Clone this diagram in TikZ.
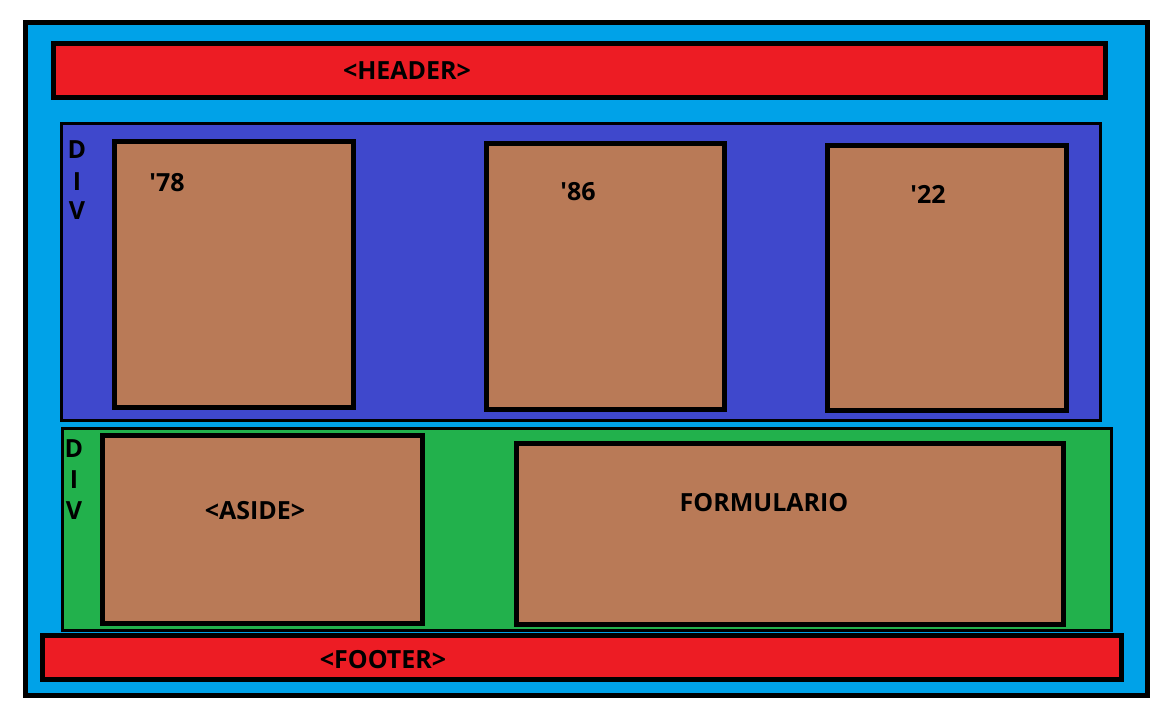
\documentclass[tikz,border=0pt]{standalone}
\usepackage{fontspec}
\setmainfont{Open Sans}
\usepackage{tikz}
\usetikzlibrary{positioning}
\definecolor{pagecyan}{HTML}{00A2E8}
\definecolor{barred}{HTML}{ED1C24}
\definecolor{divblue}{HTML}{3F48CC}
\definecolor{divgreen}{HTML}{22B14C}
\definecolor{boxbrown}{HTML}{B97A57}
\tikzset{
	thickbox/.style={line width=5pt, draw=black},
	thinbox/.style={line width=3pt, draw=black},
	lbl/.style={font=\bfseries\fontsize{25}{30}\selectfont, text=black, inner sep=0pt}
}

\begin{document}
\begin{tikzpicture}[x=1pt, y=-1pt]
		%%%%% START %%%%%
		\useasboundingbox (0, 0) rectangle (1167, 725);
		
		\draw[thickbox, fill=pagecyan] (25.5, 22.5) rectangle (1147.5, 695.5);
		
		\draw[thickbox, fill=barred] (53.5, 43.5) rectangle (1105.5, 97.5);
		\node[lbl] (header) at (407, 71) {<HEADER>};
		
		\draw[thinbox, fill=divblue] (61.5, 123.5) rectangle (1100.5, 420.5);
		\node[lbl] (divtopD) at (77, 150) {D};
		\node[lbl] (divtopI) at (77, 182) {I};
		\node[lbl] (divtopV) at (77, 211) {V};
		
		\draw[thickbox, fill=boxbrown] (114.5, 141.5) rectangle (353.5, 407.5);
		\node[lbl] (y78) at (167, 183) {\textquotesingle78};
		\draw[thickbox, fill=boxbrown] (486.5, 143.5) rectangle (724.5, 409.5);
		\node[lbl] (y86) at (578, 192) {\textquotesingle86};
		\draw[thickbox, fill=boxbrown] (827.5, 145.5) rectangle (1066.5, 410.5);
		\node[lbl] (y22) at (928, 194) {\textquotesingle22};
		
		\draw[thinbox, fill=divgreen] (62.5, 428.5) rectangle (1111.5, 630.5);
		\node[lbl] (divbotD) at (74, 449) {D};
		\node[lbl] (divbotI) at (74, 480) {I};
		\node[lbl] (divbotV) at (74, 511) {V};
		
		\draw[thickbox, fill=boxbrown] (102.5, 435.5) rectangle (422.5, 623.5);
		\node[lbl] (aside) at (255, 511) {<ASIDE>};
		\draw[thickbox, fill=boxbrown] (516.5, 443.5) rectangle (1063.5, 624.5);
		\node[lbl] (form) at (764, 503) {FORMULARIO};
		
		\draw[thickbox, fill=barred] (42.5, 635.5) rectangle (1121.5, 679.5);
		\node[lbl] (footer) at (383, 660) {<FOOTER>};
		%%%%% END %%%%%
\end{tikzpicture}
\end{document}
